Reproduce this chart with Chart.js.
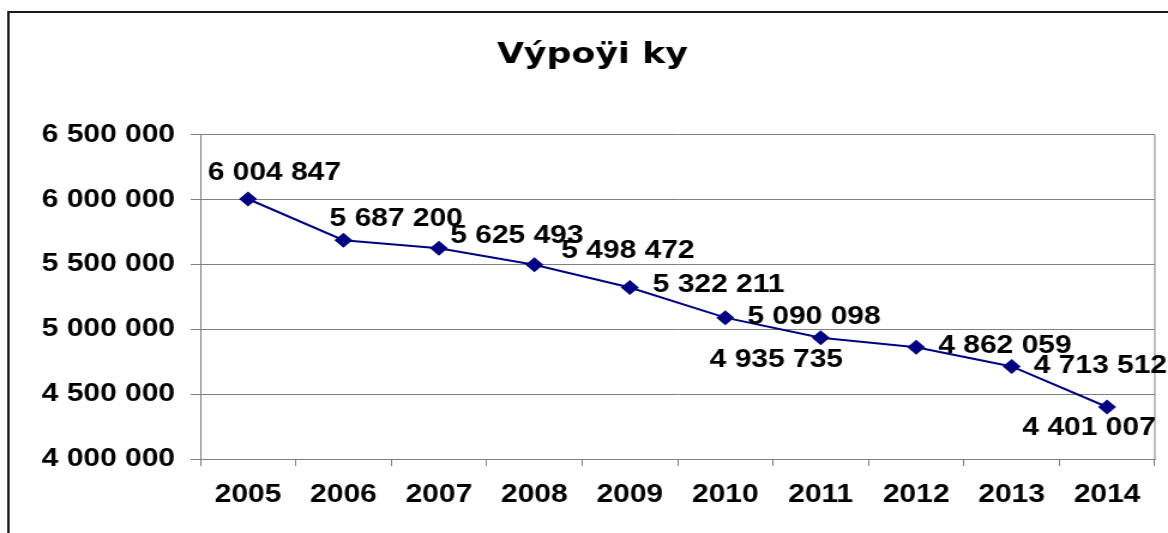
<!DOCTYPE html>
<html>
<head>
<meta charset="utf-8">
<script src="https://cdn.jsdelivr.net/npm/chart.js@4/dist/chart.umd.min.js"></script>
<style>
  html, body { margin: 0; padding: 0; background: #fff; overflow: hidden; }
  canvas { display: block; }
</style>
</head>
<body>
<!-- the original picture is stretched sideways, so the canvas is drawn narrower and widened by css -->
<canvas id="chart" width="974" height="533" style="width:1168px;height:533px"></canvas>
<script>
const chartTitle = 'Výpoÿi ky';
const years = ['2005', '2006', '2007', '2008', '2009', '2010', '2011', '2012', '2013', '2014'];
const amounts = [6004847, 5687200, 5625493, 5498472, 5322211, 5090098, 4935735, 4862059, 4713512, 4401007];
const yTickValues = [4000000, 4500000, 5000000, 5500000, 6000000, 6500000];

const fontFamily = '"Liberation Sans", Arial, sans-serif';

function fmt(n) {
    return String(n).replace(/\B(?=(\d{3})+(?!\d))/g, ' ');
}

// where each value label sits relative to its point (canvas px)
const labelOffsets = [
    [22, -26], [44, -21], [65, -12], [78, -14], [74, -2],
    [74, -1], [-37, 22], [74, -1], [74, 0], [-15, 21]
];

const framePlugin = {
    id: 'frame',
    beforeDraw(chart) {
        const ctx = chart.ctx;
        ctx.save();
        ctx.strokeStyle = '#1a1a1a';
        ctx.lineWidth = 2;
        ctx.beginPath();
        ctx.moveTo(7, chart.height + 2);
        ctx.lineTo(7, 12);
        ctx.lineTo(chart.width + 2, 12);
        ctx.stroke();
        ctx.restore();
    },
    beforeDatasetsDraw(chart) {
        const a = chart.chartArea;
        const ctx = chart.ctx;
        ctx.save();
        ctx.strokeStyle = '#808080';
        ctx.lineWidth = 1;
        ctx.beginPath();
        ctx.moveTo(a.right, a.top);
        ctx.lineTo(a.right, a.bottom);
        ctx.stroke();
        ctx.restore();
    }
};

const valueLabels = {
    id: 'valueLabels',
    afterDatasetsDraw(chart) {
        const ctx = chart.ctx;
        const meta = chart.getDatasetMeta(0);
        ctx.save();
        ctx.font = 'bold 25px ' + fontFamily;
        ctx.fillStyle = '#000';
        ctx.textAlign = 'center';
        ctx.textBaseline = 'middle';
        meta.data.forEach((pt, i) => {
            const off = labelOffsets[i];
            ctx.fillText(fmt(amounts[i]), pt.x + off[0], pt.y + off[1]);
        });
        ctx.restore();
    }
};

const ctx = document.getElementById('chart').getContext('2d');
const chart = new Chart(ctx, {
    type: 'line',
    data: {
        labels: years,
        datasets: [{
            data: amounts,
            borderColor: '#000080',
            backgroundColor: '#000080',
            borderWidth: 2,
            pointStyle: 'rectRot',
            pointRadius: 7.5,
            pointBorderWidth: 0,
            tension: 0,
            fill: false
        }]
    },
    options: {
        responsive: false,
        animation: false,
        events: [],
        layout: { padding: { left: 25, right: 11, top: 0, bottom: 0 } },
        plugins: {
            legend: { display: false },
            tooltip: { enabled: false },
            title: {
                display: true,
                text: chartTitle,
                color: '#000',
                font: { family: '"DejaVu Sans", Verdana, sans-serif', size: 29, weight: 'bold' },
                padding: { top: 38, bottom: 62 }
            }
        },
        scales: {
            x: {
                offset: true,
                grid: {
                    offset: true,
                    drawOnChartArea: false,
                    drawTicks: true,
                    tickLength: 7,
                    tickColor: '#808080'
                },
                border: { color: '#808080', width: 1 },
                ticks: {
                    color: '#000',
                    padding: 14,
                    maxRotation: 0,
                    font: { family: fontFamily, size: 25, weight: 'bold' }
                },
                afterFit(scale) { scale.height = 74; }
            },
            y: {
                min: 4000000,
                max: 6500000,
                grid: {
                    color: '#808080',
                    lineWidth: 1,
                    drawTicks: true,
                    tickLength: 8,
                    tickColor: '#808080'
                },
                border: { color: '#808080', width: 1 },
                ticks: {
                    color: '#000',
                    padding: 13,
                    font: { family: fontFamily, size: 25, weight: 'bold' },
                    callback: (v) => fmt(v)
                },
                afterBuildTicks(scale) {
                    scale.ticks = yTickValues.map(v => ({ value: v }));
                },
                afterFit(scale) { scale.width = 142; }
            }
        }
    },
    plugins: [framePlugin, valueLabels]
});
</script>
</body>
</html>
